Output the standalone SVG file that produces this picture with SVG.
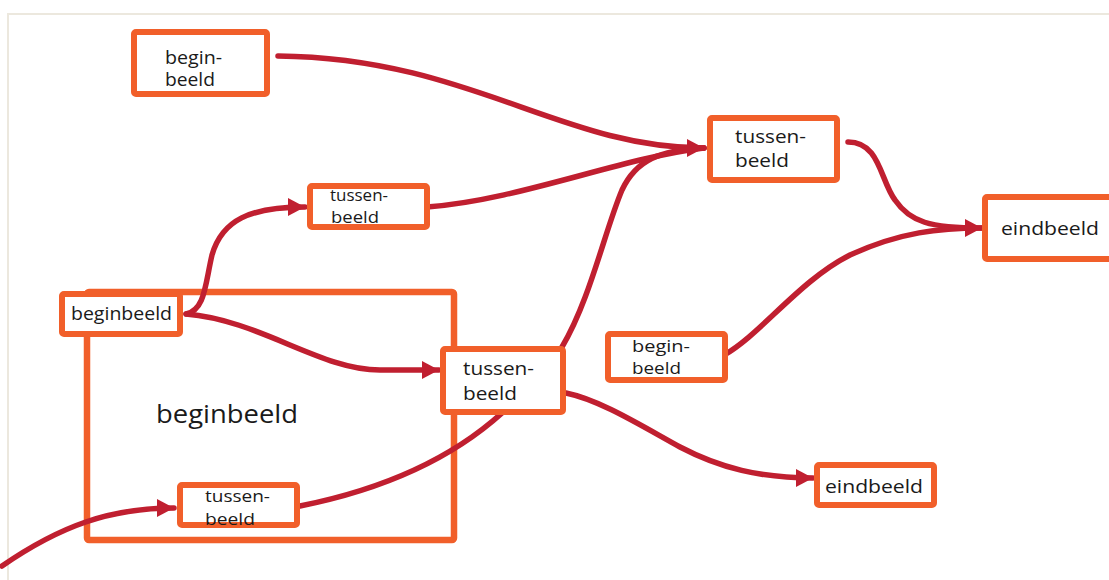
<svg xmlns="http://www.w3.org/2000/svg" width="1109" height="580" viewBox="0 0 1109 580">
<style>
.box{fill:#fff;stroke:#f15f2a;stroke-width:6;stroke-linejoin:round}
.big{fill:none;stroke:#f15f2a;stroke-width:6.5;stroke-linejoin:round}
.t{font-family:"Open Sans","Noto Sans","Liberation Sans",sans-serif;font-size:18px;fill:#1a1a1a}
.s{font-size:16px}
.tb{font-family:"Open Sans","Noto Sans","Liberation Sans",sans-serif;font-size:25px;fill:#1a1a1a}
.c{fill:none;stroke:#c01f30;stroke-width:5.5;stroke-linecap:round}
.a{fill:#c01f30}
</style>
<defs>
<marker id="arr" markerUnits="userSpaceOnUse" markerWidth="18" markerHeight="18" refX="17" refY="9" orient="auto" viewBox="0 0 18 18">
<path d="M0,0 L17,9 L0,18 z" class="a"/>
</marker>
</defs>
<rect width="1109" height="580" fill="#fff"/>
<path d="M8,580 V14 H1109" fill="none" stroke="#ece8de" stroke-width="2"/>

<g id="frame-beginbeeld">
<rect class="big" x="87" y="292" width="367" height="248" rx="2"/>
<text class="tb" x="156" y="423" textLength="142" lengthAdjust="spacingAndGlyphs">beginbeeld</text>
</g>

<g id="connectors">
<path class="c" d="M278,56 C470,58 560,148 704,148" marker-end="url(#arr)"/>
<path class="c" d="M427,207 C520,200 620,158 704,148"/>
<path class="c" d="M562,347 C590,300 605,230 622,190 C636,160 660,150 704,148"/>
<path class="c" d="M186,314 C205,310 205,285 212,255 C222,220 250,207 305,207" marker-end="url(#arr)"/>
<path class="c" d="M186,314 C260,320 320,370 380,370 L439,370" marker-end="url(#arr)"/>
<path class="c" d="M566,393 C600,400 640,425 680,447 C720,468 760,478 813,478" marker-end="url(#arr)"/>
<path class="c" d="M300,506 C380,490 450,460 502,413"/>
<path class="c" d="M2,566 C60,526 110,508 174,508" marker-end="url(#arr)"/>
<path class="c" d="M848,142 C880,142 880,180 895,200 C910,222 930,228 982,228" marker-end="url(#arr)"/>
<path class="c" d="M724,355 C760,335 800,280 850,255 C900,232 940,228 982,228"/>
</g>

<g id="n1-begin-beeld">
<rect class="box" x="134" y="32" width="133" height="62" rx="2"/>
<text class="t" x="165" y="64" textLength="57" lengthAdjust="spacingAndGlyphs">begin-</text>
<text class="t" x="165" y="86" textLength="50" lengthAdjust="spacingAndGlyphs">beeld</text>
</g>
<g id="n2-tussen-beeld">
<rect class="box" x="310" y="186" width="117" height="41" rx="2"/>
<text class="t s" x="330" y="201" textLength="58" lengthAdjust="spacingAndGlyphs">tussen-</text>
<text class="t s" x="331" y="223" textLength="48" lengthAdjust="spacingAndGlyphs">beeld</text>
</g>
<g id="n3-tussen-beeld">
<rect class="box" x="710" y="118" width="127" height="62" rx="2"/>
<text class="t" x="735" y="143" textLength="71" lengthAdjust="spacingAndGlyphs">tussen-</text>
<text class="t" x="735" y="167" textLength="54" lengthAdjust="spacingAndGlyphs">beeld</text>
</g>
<g id="n4-eindbeeld">
<rect class="box" x="985" y="197" width="140" height="62" rx="2"/>
<text class="t" x="1001" y="235" textLength="98" lengthAdjust="spacingAndGlyphs">eindbeeld</text>
</g>
<g id="n5-beginbeeld">
<rect class="box" x="62" y="294" width="118" height="40" rx="2"/>
<text class="t" x="71" y="320" textLength="101" lengthAdjust="spacingAndGlyphs">beginbeeld</text>
</g>
<g id="n6-tussen-beeld">
<rect class="box" x="443" y="349" width="120" height="63" rx="2"/>
<text class="t" x="463" y="375" textLength="71" lengthAdjust="spacingAndGlyphs">tussen-</text>
<text class="t" x="463" y="400" textLength="54" lengthAdjust="spacingAndGlyphs">beeld</text>
</g>
<g id="n7-tussen-beeld">
<rect class="box" x="180" y="485" width="117" height="40" rx="2"/>
<text class="t s" x="205" y="502" textLength="65" lengthAdjust="spacingAndGlyphs">tussen-</text>
<text class="t s" x="205" y="525" textLength="50" lengthAdjust="spacingAndGlyphs">beeld</text>
</g>
<g id="n8-begin-beeld">
<rect class="box" x="608" y="334" width="117" height="46" rx="2"/>
<text class="t s" x="632" y="352" textLength="58" lengthAdjust="spacingAndGlyphs">begin-</text>
<text class="t s" x="632" y="374" textLength="49" lengthAdjust="spacingAndGlyphs">beeld</text>
</g>
<g id="n9-eindbeeld">
<rect class="box" x="817" y="465" width="117" height="40" rx="2"/>
<text class="t" x="825" y="493" textLength="98" lengthAdjust="spacingAndGlyphs">eindbeeld</text>
</g>
</svg>
